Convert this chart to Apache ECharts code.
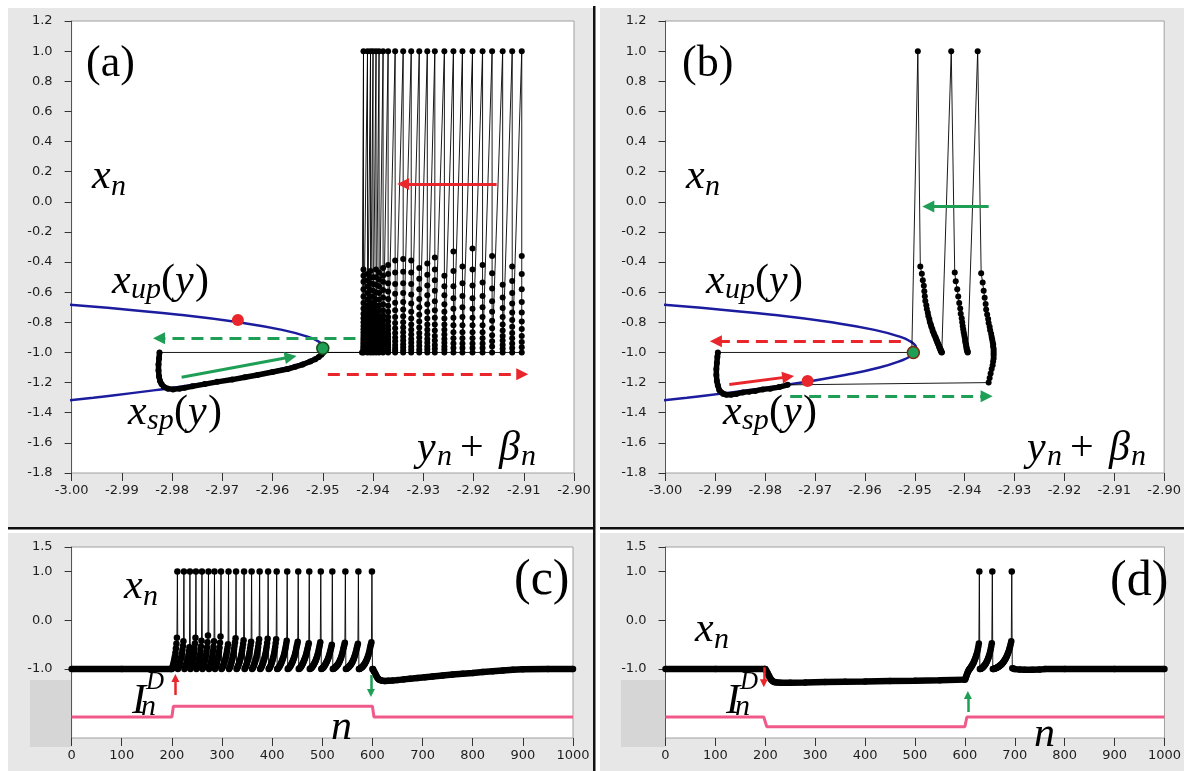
<!DOCTYPE html>
<html><head><meta charset="utf-8">
<script src="https://cdn.jsdelivr.net/npm/echarts@6/dist/echarts.min.js"></script>
<style>html,body{margin:0;padding:0;background:#fff}#c{width:1184px;height:771px}</style>
</head><body><div id="c"></div>
<script>
// ---------------- data ----------------
const yTicksBottom = [-1, 0, 1, 1.5];
const spikeTop = 1.0;
// nullcline x_up / x_sp : x values and matching y+beta values
const nullX  = [-0.66,-0.70,-0.75,-0.80,-0.85,-0.90,-0.925,-0.95,-0.975,-1.00,-1.025,-1.05,-1.10,-1.15,-1.20,-1.25,-1.30,-1.33];
const nullYB = [-3.0094,-2.9941,-2.9786,-2.9667,-2.9581,-2.9526,-2.9510,-2.9500,-2.9497,-2.9500,-2.9509,-2.9524,-2.9571,-2.9640,-2.9727,-2.9833,-2.9957,-3.0038];

// resting state (both runs)
const restN = [0, 100, 199];
const restX = [-1.0, -1.0, -1.0];
const restYB = -2.95;
const stimOnN = 200;

// run (a)/(c): y+beta of each spike column, and x values of each climb before a spike
const spikeYB_A = [-2.9104,-2.9123,-2.9142,-2.9163,-2.9182,-2.9202,-2.9222,-2.9240,-2.9258,-2.9277,-2.9292,-2.9308,-2.9324,-2.9340,-2.9356,-2.9370,-2.9380,-2.9388,-2.9394,-2.9400,-2.9405,-2.9411,-2.9419];
const climbA = [
 [-1.0,-0.965,-0.93,-0.89,-0.845,-0.795,-0.735,-0.665,-0.58,-0.48,-0.36],
 [-1.0,-0.97,-0.94,-0.905,-0.87,-0.83,-0.785,-0.735,-0.675,-0.605,-0.525,-0.43],
 [-1.0,-0.975,-0.95,-0.92,-0.89,-0.855,-0.815,-0.765,-0.705,-0.635,-0.55],
 [-1.0,-0.96,-0.925,-0.885,-0.84,-0.79,-0.73,-0.66,-0.575,-0.475,-0.36],
 [-1.0,-0.97,-0.94,-0.905,-0.865,-0.82,-0.765,-0.70,-0.625,-0.535,-0.42],
 [-1.0,-0.97,-0.94,-0.905,-0.865,-0.82,-0.77,-0.71,-0.64,-0.555,-0.45,-0.31],
 [-1.0,-0.97,-0.94,-0.905,-0.865,-0.82,-0.765,-0.70,-0.625,-0.54,-0.43],
 [-1.0,-0.97,-0.94,-0.905,-0.865,-0.82,-0.77,-0.71,-0.64,-0.56,-0.46,-0.33],
 [-1.0,-0.98,-0.96,-0.935,-0.91,-0.88,-0.85,-0.815,-0.775,-0.73,-0.68,-0.62,-0.56,-0.49],
 [-1.0,-0.975,-0.95,-0.92,-0.89,-0.855,-0.815,-0.77,-0.72,-0.66,-0.59,-0.52,-0.45,-0.37],
 [-1.0,-0.98,-0.96,-0.935,-0.91,-0.88,-0.85,-0.815,-0.775,-0.73,-0.68,-0.62,-0.555,-0.485,-0.41],
 [-1.0,-0.98,-0.955,-0.93,-0.9,-0.87,-0.835,-0.795,-0.75,-0.70,-0.645,-0.58,-0.51,-0.44],
 [-1.0,-0.98,-0.96,-0.935,-0.91,-0.88,-0.85,-0.815,-0.775,-0.73,-0.675,-0.615,-0.545,-0.47,-0.39],
 [-1.0,-0.985,-0.965,-0.945,-0.92,-0.895,-0.865,-0.835,-0.80,-0.76,-0.715,-0.665,-0.605,-0.54,-0.465,-0.38],
 [-1.0,-0.985,-0.97,-0.95,-0.925,-0.9,-0.87,-0.84,-0.805,-0.765,-0.72,-0.67,-0.61,-0.545,-0.47,-0.39],
 [-1.0,-0.99,-0.98,-0.965,-0.95,-0.935,-0.915,-0.895,-0.875,-0.85,-0.825,-0.795,-0.765,-0.73,-0.69,-0.645,-0.595,-0.54,-0.48,-0.42],
 [-1.0,-0.99,-0.98,-0.97,-0.955,-0.94,-0.925,-0.905,-0.885,-0.865,-0.84,-0.815,-0.785,-0.755,-0.72,-0.68,-0.635,-0.585,-0.53,-0.49,-0.44],
 [-1.0,-0.99,-0.98,-0.97,-0.955,-0.94,-0.925,-0.905,-0.885,-0.865,-0.84,-0.815,-0.79,-0.76,-0.725,-0.69,-0.65,-0.605,-0.56,-0.515,-0.47],
 [-1.0,-0.992,-0.984,-0.975,-0.965,-0.952,-0.938,-0.922,-0.905,-0.886,-0.865,-0.842,-0.817,-0.79,-0.76,-0.727,-0.69,-0.648,-0.6,-0.55,-0.5,-0.45],
 [-1.0,-0.992,-0.984,-0.975,-0.965,-0.952,-0.938,-0.922,-0.905,-0.886,-0.866,-0.845,-0.822,-0.797,-0.77,-0.74,-0.707,-0.67,-0.63,-0.59,-0.545,-0.50],
 [-1.0,-0.994,-0.988,-0.981,-0.973,-0.964,-0.954,-0.943,-0.931,-0.918,-0.904,-0.888,-0.87,-0.85,-0.828,-0.804,-0.777,-0.747,-0.713,-0.675,-0.632,-0.585,-0.54,-0.50,-0.46],
 [-1.0,-0.994,-0.988,-0.981,-0.973,-0.964,-0.954,-0.943,-0.931,-0.918,-0.904,-0.888,-0.871,-0.852,-0.831,-0.808,-0.782,-0.754,-0.722,-0.687,-0.648,-0.605,-0.56,-0.52,-0.48],
 [-1.0,-0.995,-0.99,-0.984,-0.977,-0.969,-0.96,-0.95,-0.939,-0.927,-0.914,-0.9,-0.884,-0.866,-0.846,-0.824,-0.8,-0.773,-0.743,-0.709,-0.671,-0.628,-0.58,-0.53,-0.49,-0.45]
];
// after stimulus end, run (a)/(c)
const postN  = [600,601,603,605,607,609,611,613,616,620,625,632,640,650,662,675,690,705,720,740,760,780,800,820,840,860,880,900,950,1000];
const postX  = [-1.0,-1.0,-1.04,-1.08,-1.12,-1.16,-1.19,-1.21,-1.23,-1.24,-1.245,-1.24,-1.235,-1.225,-1.21,-1.195,-1.18,-1.165,-1.15,-1.13,-1.11,-1.095,-1.08,-1.06,-1.045,-1.03,-1.015,-1.005,-1.0,-1.0];
const postYB = [-2.9422,-2.9825,-2.9826,-2.9827,-2.9827,-2.9826,-2.9824,-2.9821,-2.9816,-2.9808,-2.9798,-2.9785,-2.9775,-2.9760,-2.9735,-2.9710,-2.9680,-2.9655,-2.9630,-2.9600,-2.9570,-2.9555,-2.9540,-2.9525,-2.9515,-2.9508,-2.9503,-2.9501,-2.9500,-2.9500];

// run (b)/(d): stimulus phase (hyperpolarised)
const bStimN  = [200,202,204,206,208,210,212,215,218,222,230,250,280,320,360,400,450,500,550,600];
const bStimX  = [-1.0,-1.03,-1.07,-1.11,-1.15,-1.19,-1.22,-1.25,-1.265,-1.275,-1.28,-1.28,-1.275,-1.265,-1.26,-1.255,-1.245,-1.24,-1.23,-1.215];
const bStimYB = [-2.9895,-2.9896,-2.9897,-2.9898,-2.9898,-2.9897,-2.9895,-2.9892,-2.9888,-2.9884,-2.9878,-2.9868,-2.9858,-2.9845,-2.9832,-2.9820,-2.9805,-2.9790,-2.9772,-2.9755];
// rebound spikes: climbs (x, y+beta), spike columns' tops
const bCol1X  = [-1.20,-1.17,-1.14,-1.11,-1.085,-1.06,-1.04,-1.02,-1.005,-0.99,-0.975,-0.96,-0.945,-0.93,-0.913,-0.895,-0.875,-0.853,-0.83,-0.805,-0.778,-0.748,-0.715,-0.678,-0.637,-0.59,-0.535,-0.475];
const bCol1YB = [-2.9352,-2.9350,-2.9348,-2.9346,-2.9344,-2.9343,-2.9342,-2.9342,-2.9342,-2.9342,-2.9342,-2.9343,-2.9343,-2.9344,-2.9345,-2.9346,-2.9347,-2.9349,-2.9350,-2.9352,-2.9353,-2.9355,-2.9357,-2.9358,-2.9360,-2.9362,-2.9364,-2.9367];
const bCol2X  = [-1.0,-0.996,-0.991,-0.985,-0.978,-0.97,-0.961,-0.951,-0.94,-0.928,-0.915,-0.9,-0.884,-0.866,-0.846,-0.824,-0.8,-0.773,-0.743,-0.709,-0.671,-0.628,-0.58,-0.527,-0.47];
const bCol2YB = [-2.9394,-2.9394,-2.9395,-2.9395,-2.9396,-2.9396,-2.9397,-2.9397,-2.9398,-2.9399,-2.9399,-2.9400,-2.9401,-2.9402,-2.9403,-2.9404,-2.9405,-2.9406,-2.9408,-2.9409,-2.9411,-2.9413,-2.9415,-2.9418,-2.9420];
const bCol3X  = [-1.0,-0.998,-0.995,-0.992,-0.988,-0.984,-0.98,-0.975,-0.97,-0.965,-0.959,-0.953,-0.946,-0.939,-0.931,-0.923,-0.914,-0.905,-0.895,-0.884,-0.872,-0.859,-0.845,-0.83,-0.814,-0.797,-0.778,-0.758,-0.736,-0.712,-0.686,-0.658,-0.627,-0.594,-0.558,-0.52,-0.478,-0.43];
const bCol3YB = [-2.9446,-2.9446,-2.9447,-2.9447,-2.9448,-2.9448,-2.9449,-2.9449,-2.9450,-2.9451,-2.9451,-2.9452,-2.9453,-2.9454,-2.9455,-2.9456,-2.9457,-2.9458,-2.9459,-2.9461,-2.9462,-2.9464,-2.9465,-2.9467,-2.9468,-2.9470,-2.9471,-2.9473,-2.9474,-2.9476,-2.9477,-2.9479,-2.9480,-2.9481,-2.9482,-2.9484,-2.9486,-2.9489];
const bTopYB = [-2.9374,-2.9427,-2.9494];
const bAfterN  = [695,700,710,720,735,750,760,800,900,1000];
const bAfterX  = [-0.98,-1.0,-1.01,-1.015,-1.015,-1.01,-1.0,-1.0,-1.0,-1.0];
const bAfterYB = [-2.9506,-2.9503,-2.9501,-2.9500,-2.9500,-2.9500,-2.9500,-2.9500,-2.9500,-2.9500];

// stimulus current I_n^D (drawn in the lower panels' units)
const pinkC_N = [0,200,203,600,603,1000];
const pinkC_V = [-1.98,-1.98,-1.76,-1.76,-1.98,-1.98];
const pinkD_N = [0,197,203,600,604,1000];
const pinkD_V = [-1.98,-1.98,-2.18,-2.18,-1.98,-1.98];

// annotation arrows (data coordinates) and marker points
const arrA_redSolid   = [[-2.9154,0.118],[-2.9340,0.118]];
const arrA_redDash    = [[-2.9490,-1.145],[-2.9103,-1.145]];
const arrA_greenDash  = [[-2.9435,-0.905],[-2.9826,-0.905]];
const arrA_greenSolid = [[-2.9781,-1.165],[-2.9564,-1.03]];
const arrB_redDash    = [[-2.9528,-0.925],[-2.9899,-0.925]];
const arrB_redSolid   = [[-2.9872,-1.213],[-2.9754,-1.162]];
const arrB_greenDash  = [[-2.9750,-1.29],[-2.9356,-1.29]];
const arrB_greenSolid = [[-2.9352,-0.031],[-2.9473,-0.031]];
const arrC_red   = [[207,-1.53],[207,-1.18]];
const arrC_green = [[597,-1.12],[597,-1.49]];
const arrD_red   = [[197,-0.96],[197,-1.29]];
const arrD_green = [[606,-1.88],[606,-1.53]];
const dotA_red = [-2.9669,-0.785], dotA_green = [-2.9500,-0.972];
const dotB_red = [-2.9715,-1.19],  dotB_green = [-2.9503,-1.0];

// ---------------- build trajectories ----------------
function buildA(){
  const ts=[], ph=[];
  restN.forEach((n,i)=>ts.push([n,restX[i]]));
  ph.push([restYB,restX[0]]);
  let n=stimOnN;
  climbA.forEach((list,k)=>{
    list.forEach(v=>{ts.push([n,v]);ph.push([spikeYB_A[k],v]);n++;});
    ts.push([n,spikeTop]);ph.push([spikeYB_A[k],spikeTop]);n++;
  });
  postN.forEach((pn,i)=>{ts.push([pn,postX[i]]);ph.push([postYB[i],postX[i]]);});
  return {ts,ph};
}
function buildB(){
  const ts=[], ph=[];
  restN.forEach((n,i)=>ts.push([n,restX[i]]));
  ph.push([restYB,restX[0]]);
  bStimN.forEach((n,i)=>{ts.push([n,bStimX[i]]);ph.push([bStimYB[i],bStimX[i]]);});
  let n=bStimN[bStimN.length-1]+1;
  const cols=[[bCol1X,bCol1YB],[bCol2X,bCol2YB],[bCol3X,bCol3YB]];
  cols.forEach((c,k)=>{
    c[0].forEach((v,i)=>{ts.push([n,v]);ph.push([c[1][i],v]);n++;});
    ts.push([n,spikeTop]);ph.push([bTopYB[k],spikeTop]);n++;
  });
  bAfterN.forEach((an,i)=>{ts.push([an,bAfterX[i]]);ph.push([bAfterYB[i],bAfterX[i]]);});
  return {ts,ph};
}
const A=buildA(), B=buildB();
const nullData = nullX.map((x,i)=>[nullYB[i],x]);
const bandA = postN.slice(1).map((n,i)=>[postYB[i+1],postX[i+1]]);
const bandC1 = restN.map((n,i)=>[n,restX[i]]).concat([[stimOnN,-1.0]]);
const bandC2 = postN.map((n,i)=>[n,postX[i]]);
const bandB = bStimN.map((n,i)=>[bStimYB[i],bStimX[i]]);
const bandD1 = restN.map((n,i)=>[n,restX[i]]).concat(bStimN.map((n,i)=>[n,bStimX[i]]));
const bandD2 = bAfterN.map((n,i)=>[n,bAfterX[i]]);

// ---------------- chart ----------------
const RED='#e8262b', GREEN='#1f9e55', BLUE='#1c1c9e', PINK='#ef5a8a';
const lab={fontFamily:'DejaVu Sans',fontSize:13,color:'#1e1e1e'};
const fix=(d)=>(v)=>(Math.abs(v)<1e-9?0:v).toFixed(d);
const grids=[
 {left:71.6,top:21,width:502.4,height:452},
 {left:665.5,top:21,width:501,height:452},
 {left:71.6,top:547,width:501.4,height:191},
 {left:665.5,top:547,width:501,height:191}
].map(g=>Object.assign(g,{show:true,backgroundColor:'#fff',borderColor:'#a0a0a0',borderWidth:1}));
const xAxes=[0,1].map(i=>({gridIndex:i,type:'value',min:-3,max:-2.9,interval:0.01,position:'bottom',
  axisLine:{show:false,onZero:false},axisTick:{show:true,length:8,lineStyle:{color:'#333'}},
  axisLabel:Object.assign({margin:11,formatter:fix(2)},lab),splitLine:{show:false}}))
 .concat([2,3].map(i=>({gridIndex:i,type:'value',min:0,max:1000,interval:100,position:'bottom',
  axisLine:{show:false,onZero:false},axisTick:{show:true,length:8,lineStyle:{color:'#333'}},
  axisLabel:Object.assign({margin:11,formatter:(v)=>String(v)},lab),splitLine:{show:false}})));
const yAxes=[0,1].map(i=>({gridIndex:i,type:'value',min:-1.8,max:1.2,interval:0.2,position:'left',
  axisLine:{show:true,onZero:false,lineStyle:{color:'#555',width:1}},axisTick:{show:true,length:7,lineStyle:{color:'#333'}},
  axisLabel:Object.assign({margin:19,formatter:fix(1)},lab),splitLine:{show:false}}))
 .concat([2,3].map(i=>({gridIndex:i,type:'value',min:-2.41,max:1.5,position:'left',
  axisLine:{show:true,onZero:false,lineStyle:{color:'#555',width:1}},
  axisTick:{show:true,length:7,customValues:yTicksBottom,lineStyle:{color:'#333'}},
  axisLabel:Object.assign({margin:19,customValues:yTicksBottom,formatter:fix(1)},lab),splitLine:{show:false}})));

function traj(ax,data,size){return {type:'line',xAxisIndex:ax,yAxisIndex:ax,data,silent:true,
  symbol:'circle',symbolSize:size,showAllSymbol:true,itemStyle:{color:'#000'},lineStyle:{color:'#000',width:0.9},z:4};}
function band(ax,data,w){return {type:'line',xAxisIndex:ax,yAxisIndex:ax,data,silent:true,symbol:'none',lineStyle:{color:'#000',width:w},z:3};}
function arrow(ax,c,color,dashed,w,hs){return {type:'lines',coordinateSystem:'cartesian2d',xAxisIndex:ax,yAxisIndex:ax,silent:true,
  symbol:['none','triangle'],symbolSize:[0,hs],data:[{coords:c}],
  lineStyle:{color,width:w,type:dashed?[12,7]:'solid',opacity:1},z:6};}
function dot(ax,p,color,border){return {type:'scatter',xAxisIndex:ax,yAxisIndex:ax,silent:true,data:[p],symbolSize:12,
  itemStyle:{color,opacity:1,borderColor:border||color,borderWidth:border?1.5:0},z:7};}

const series=[
 {type:'line',xAxisIndex:0,yAxisIndex:0,data:nullData,smooth:true,symbol:'none',silent:true,lineStyle:{color:BLUE,width:2.5},z:2},
 band(0,bandA,5.5), traj(0,A.ph,6),
 arrow(0,arrA_redSolid,RED,false,3,12), arrow(0,arrA_redDash,RED,true,3,12),
 arrow(0,arrA_greenDash,GREEN,true,3,12), arrow(0,arrA_greenSolid,GREEN,false,3,12),
 dot(0,dotA_red,RED), dot(0,dotA_green,GREEN,'#1a4a1a'),

 {type:'line',xAxisIndex:1,yAxisIndex:1,data:nullData,smooth:true,symbol:'none',silent:true,lineStyle:{color:BLUE,width:2.5},z:2},
 band(1,bandB,5.5), traj(1,B.ph,6),
 arrow(1,arrB_redDash,RED,true,3,12), arrow(1,arrB_redSolid,RED,false,3,12),
 arrow(1,arrB_greenDash,GREEN,true,3,12), arrow(1,arrB_greenSolid,GREEN,false,3,12),
 dot(1,dotB_red,RED), dot(1,dotB_green,GREEN,'#7a2a10'),

 {type:'line',xAxisIndex:2,yAxisIndex:2,data:pinkC_N.map((n,i)=>[n,pinkC_V[i]]),symbol:'none',silent:true,lineStyle:{color:PINK,width:3},z:2},
 band(2,bandC1,6.5), band(2,bandC2,6.5), traj(2,A.ts,6.5),
 arrow(2,arrC_red,RED,false,2.5,8), arrow(2,arrC_green,GREEN,false,2.5,8),

 {type:'line',xAxisIndex:3,yAxisIndex:3,data:pinkD_N.map((n,i)=>[n,pinkD_V[i]]),symbol:'none',silent:true,lineStyle:{color:PINK,width:3},z:2},
 band(3,bandD1,6.5), band(3,bandD2,6.5), traj(3,B.ts,6.5),
 arrow(3,arrD_red,RED,false,2.5,8), arrow(3,arrD_green,GREEN,false,2.5,8)
];

// ---------------- decoration: panels, separators, math labels ----------------
const G=[];
function rect(x,y,w,h,fill,z){G.push({type:'rect',shape:{x,y,width:w,height:h},style:{fill},z:z||-100,silent:true});}
rect(8,8,585,519,'#e7e7e7'); rect(600,8,584,519,'#e7e7e7');
rect(8,533,585,238,'#e7e7e7'); rect(600,533,584,238,'#e7e7e7');
rect(30,680,41,67,'#d6d6d6',-90); rect(621,680,44,67,'#d6d6d6',-90);
rect(593,6,2.5,765,'#111',-80);
rect(8,527,585,2.5,'#111',-80); rect(600,527,584,2.5,'#111',-80);
function T(x,base,s,size,it){G.push({type:'text',x:x,y:base-0.115*size,z:100,silent:true,
  style:{text:s,fontFamily:'Liberation Serif',fontSize:size,fontStyle:it?'italic':'normal',fill:'#000',align:'left',verticalAlign:'middle'}});}
function xn(x,b){T(x,b,'x',42,true);T(x+19,b+9,'n',30,true);}
function xsub(x,b,sub,sw){T(x,b,'x',42,true);T(x+19,b+7,sub,30,true);const p=x+19+sw;T(p,b,'(',42,false);T(p+14,b,'y',42,true);T(p+34,b,')',42,false);}
function ybeta(x,b){T(x,b,'y',42,true);T(x+20,b+7,'n',30,true);T(x+43,b,'+',42,false);T(x+82,b,'β',42,true);T(x+104,b+7,'n',30,true);}
function idn(x,b){T(x,b,'I',42,true);T(x+14,b-22,'D',25,true);T(x+9,b+4,'n',30,true);}
// (a)
T(86,69,'(a)',44,false); xn(92,182); xsub(112,287,'up',30); xsub(128,418,'sp',27); ybeta(417,454);
// (b)
T(682,69,'(b)',44,false); xn(686,182); xsub(706,287,'up',30); xsub(723,418,'sp',27); ybeta(1027,454);
// (c)
T(514,587,'(c)',50,false); xn(124,592); idn(132,707); T(331,733,'n',42,true);
// (d)
T(1110,588,'(d)',50,false); xn(695,635); idn(726,707); T(1034,740,'n',42,true);

const chart=echarts.init(document.getElementById('c'),null,{renderer:'canvas',width:1184,height:771});
chart.setOption({animation:false,backgroundColor:'#fff',grid:grids,xAxis:xAxes,yAxis:yAxes,series,graphic:{elements:G}});
</script></body></html>
